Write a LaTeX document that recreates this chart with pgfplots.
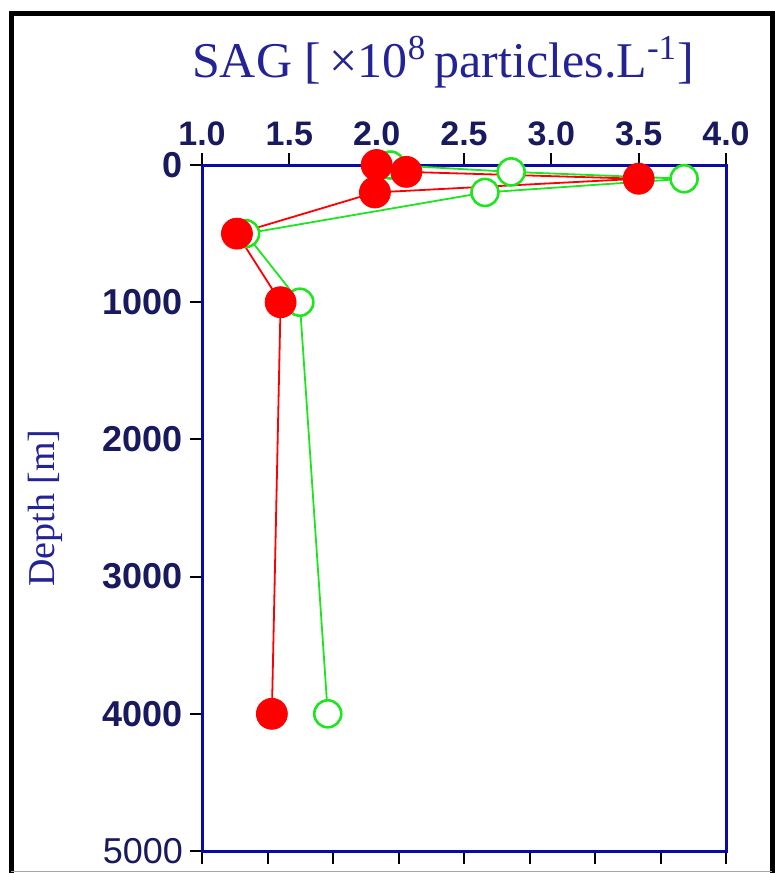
\documentclass[border=0pt]{standalone}
\usepackage{fontspec}
\setmainfont{Liberation Serif}
\newfontfamily\ticksf{Liberation Sans}
\usepackage{pgfplots}
\pgfplotsset{compat=1.18}

\definecolor{titlenavy}{RGB}{35,35,150}
\definecolor{ticknavy}{RGB}{25,25,95}
\definecolor{framenavy}{RGB}{10,10,165}
\definecolor{sagred}{RGB}{255,0,0}
\definecolor{saggreen}{RGB}{30,230,30}

\begin{document}
\begin{tikzpicture}
\useasboundingbox (0,0) rectangle (387.5pt,-436.5pt);
% outer frame, open at the bottom
\begin{scope}
\clip (0,0) rectangle (387.5pt,-436.5pt);
\draw[line width=2.5pt, black] (5.5pt,-460pt) -- (5.5pt,-6.5pt) -- (386pt,-6.5pt) -- (386pt,-460pt);
\draw[line width=0.6pt, black!35] (5.5pt,-435.8pt) -- (386pt,-435.8pt);
\end{scope}

% bottom ticks (unlabelled)
\begin{axis}[
  at={(232pt,-254pt)}, anchor=center,
  scale only axis, width=262pt, height=343pt,
  xmin=0, xmax=8, ymin=0, ymax=1,
  xtick={0,...,8}, xticklabels={},
  ytick=\empty,
  axis x line*=bottom, axis y line=none,
  x axis line style={draw=none},
  tick align=outside, major tick length=6.5pt,
  tick style={black, line width=1pt},
]
\end{axis}

\begin{axis}[
  at={(232pt,-254pt)}, anchor=center,
  scale only axis, width=262pt, height=343pt,
  xmin=1, xmax=4, ymin=0, ymax=5000,
  y dir=reverse,
  xtick={1,1.5,...,4}, ytick={0,1000,...,5000},
  yticklabels={\bfseries 0, \bfseries 1000, \bfseries 2000, \bfseries 3000, \bfseries 4000, 5000},
  xtick pos=top, xticklabel pos=top, ytick pos=left,
  tick align=outside, major tick length=6pt,
  tick style={black, line width=1pt},
  axis line style={framenavy, line width=1.5pt},
  /pgf/number format/assume math mode=true,
  xticklabel style={font=\ticksf\bfseries\fontsize{17}{17}\selectfont, text=ticknavy,
    /pgf/number format/.cd, fixed, fixed zerofill, precision=1},
  yticklabel style={font=\ticksf\fontsize{18}{18}\selectfont, text=ticknavy},
]
\addplot[saggreen, line width=0.9pt, mark=*, mark size=6.75pt,
  mark options={draw=saggreen, fill=white, line width=1.3pt}]
  coordinates {(2.08,0) (2.77,50) (3.76,100) (2.62,200) (1.25,500) (1.56,1000) (1.72,4000)};
\addplot[sagred, line width=0.9pt, mark=*, mark size=7.75pt,
  mark options={draw=sagred, fill=sagred, line width=0.4pt}]
  coordinates {(2.0,0) (2.17,50) (3.5,100) (1.99,200) (1.2,500) (1.45,1000) (1.4,4000)};
\end{axis}

\node[text=titlenavy, font=\fontsize{25}{25}\selectfont] at (221.5pt,-31pt)
  {SAG [\,×10\textsuperscript{8}\,particles.L\textsuperscript{-1}]};
\node[text=titlenavy, font=\fontsize{19}{19}\selectfont, rotate=90] at (22.5pt,-254pt)
  {Depth [m]};
\end{tikzpicture}
\end{document}
